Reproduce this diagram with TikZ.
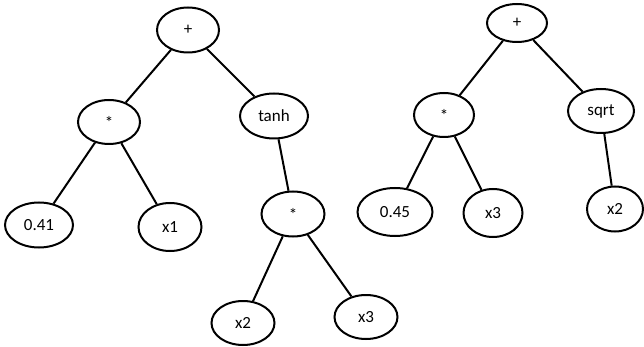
\documentclass[tikz,border=0pt]{standalone}
\usepackage{fontspec}
\setmainfont{Carlito}
\usetikzlibrary{shapes.geometric}
\begin{document}
\begin{tikzpicture}[x=1pt,y=-1pt,
  tnode/.style={draw, ellipse, line width=2pt, inner sep=0pt,
    font=\fontsize{17}{17}\selectfont},
  edge/.style={line width=2pt}]
\useasboundingbox (0,0) rectangle (644,347);
% left tree
\node[tnode, minimum width=62pt, minimum height=45pt] (p1) at (188,30) {+};
\node[tnode, minimum width=62pt, minimum height=44pt] (m1) at (109,122) {*};
\node[tnode, minimum width=68pt, minimum height=45pt] (th) at (274,116) {tanh};
\node[tnode, minimum width=68pt, minimum height=45pt] (c41) at (39,225) {0.41};
\node[tnode, minimum width=63pt, minimum height=48pt] (x1) at (170,227) {x1};
\node[tnode, minimum width=63pt, minimum height=45pt] (m2) at (293,214) {*};
\node[tnode, minimum width=63pt, minimum height=44pt] (x2a) at (243,323) {x2};
\node[tnode, minimum width=63pt, minimum height=44pt] (x3a) at (366,317) {x3};
\draw[edge] (p1) -- (m1);
\draw[edge] (p1) -- (th);
\draw[edge] (m1) -- (c41);
\draw[edge] (m1) -- (x1);
\draw[edge] (th) -- (m2);
\draw[edge] (m2) -- (x2a);
\draw[edge] (m2) -- (x3a);
% right tree
\node[tnode, minimum width=60pt, minimum height=38pt] (p2) at (517,23) {+};
\node[tnode, minimum width=60pt, minimum height=44pt] (m3) at (444,115) {*};
\node[tnode, minimum width=66pt, minimum height=44pt] (sq) at (601,111) {sqrt};
\node[tnode, minimum width=75pt, minimum height=48pt] (c45) at (395,212) {0.45};
\node[tnode, minimum width=59pt, minimum height=48pt] (x3b) at (493,213) {x3};
\node[tnode, minimum width=56pt, minimum height=45pt] (x2b) at (615,209) {x2};
\draw[edge] (p2) -- (m3);
\draw[edge] (p2) -- (sq);
\draw[edge] (m3) -- (c45);
\draw[edge] (m3) -- (x3b);
\draw[edge] (sq) -- (x2b);
\end{tikzpicture}
\end{document}
